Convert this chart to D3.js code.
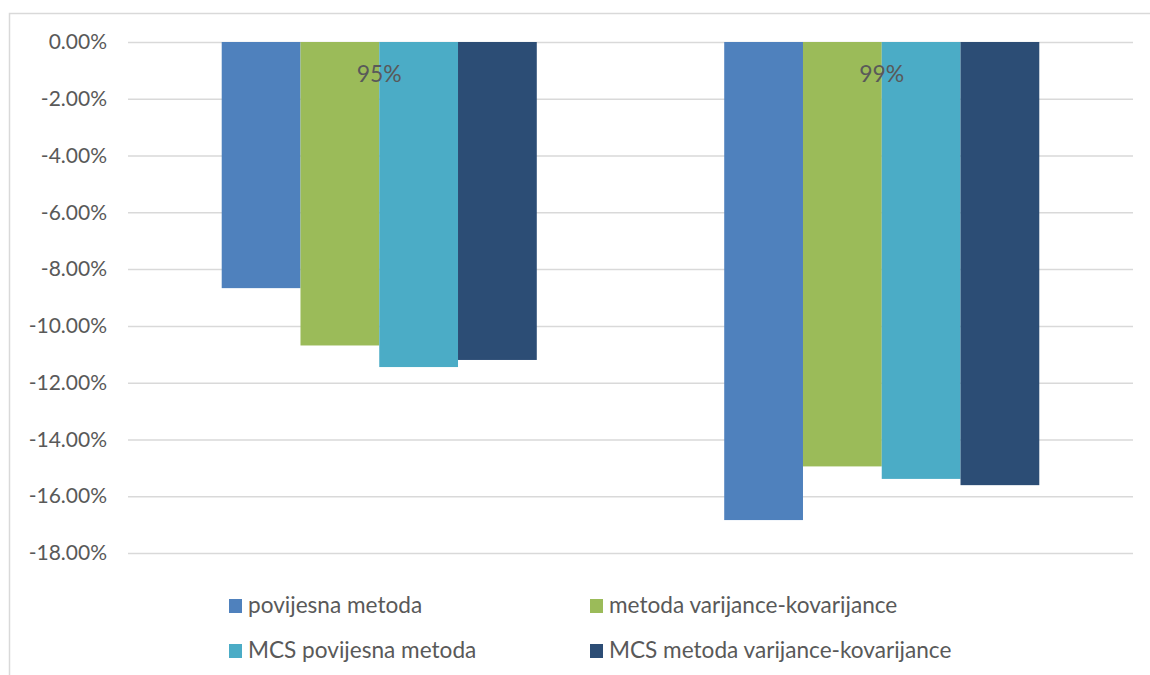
<!DOCTYPE html>
<html>
<head>
<meta charset="utf-8">
<script src="https://cdn.jsdelivr.net/npm/d3@7"></script>
<style>
  body { margin: 0; background: #fff; }
  text { font-family: Lato, "Liberation Sans", sans-serif; fill: #595959; }
</style>
</head>
<body>
<div id="chart"></div>
<script>
var width = 1150,
    height = 675;

// data
var categories = ["95%", "99%"];
var seriesNames = ["povijesna metoda", "metoda varijance-kovarijance",
                   "MCS povijesna metoda", "MCS metoda varijance-kovarijance"];
var povijesna = [-0.0867, -0.1684];
var varKov = [-0.1069, -0.1495];
var mcsPovijesna = [-0.1145, -0.1539];
var mcsVarKov = [-0.1120, -0.1561];
var yTicks = [0, -0.02, -0.04, -0.06, -0.08, -0.10, -0.12, -0.14, -0.16, -0.18];
var colors = ["#4F81BD", "#9BBB59", "#4BACC6", "#2C4D75"];

var seriesValues = [povijesna, varKov, mcsPovijesna, mcsVarKov];

var plot = { left: 128, right: 1133, top: 42, bottom: 553 };

// plain hyphen for negatives, like the original
var locale = d3.formatLocale({ decimal: ".", thousands: ",", grouping: [3], currency: ["", ""], minus: "-" });
var pct = locale.format(".2%");

var svg = d3.select("#chart").append("svg")
    .attr("width", width)
    .attr("height", height);

// chart area border
svg.append("rect")
    .attr("x", 9.5)
    .attr("y", 13.5)
    .attr("width", width + 20)
    .attr("height", height + 20)
    .attr("fill", "none")
    .attr("stroke", "#d9d9d9")
    .attr("stroke-width", 1.5);

var y = d3.scaleLinear()
    .domain([0, -0.18])
    .range([plot.top, plot.bottom]);

var x0 = d3.scaleBand()
    .domain(categories)
    .range([plot.left, plot.right])
    .paddingInner(0.373)
    .paddingOuter(0.1865);

var x1 = d3.scaleBand()
    .domain(d3.range(seriesNames.length))
    .range([0, x0.bandwidth()]);

// gridlines + labels
var yAxis = d3.axisLeft(y)
    .tickValues(yTicks)
    .tickSize(-(plot.right - plot.left))
    .tickPadding(21)
    .tickFormat(pct);

var gy = svg.append("g")
    .attr("transform", "translate(" + plot.left + ",0)")
    .call(yAxis);
gy.select(".domain").remove();
gy.selectAll(".tick line").attr("stroke", "#d9d9d9").attr("stroke-width", 1.5);
gy.selectAll(".tick text")
    .style("font-size", "21px")
    .attr("fill", "#595959")
    .style("font-family", "Lato, 'Liberation Sans', sans-serif");

// bars
var groups = svg.selectAll(".grp")
    .data(categories)
    .enter().append("g")
    .attr("class", "grp")
    .attr("transform", function (d) { return "translate(" + x0(d) + ",0)"; });

groups.selectAll("rect")
    .data(function (d, i) {
        return seriesValues.map(function (s, j) { return { s: j, v: s[i] }; });
    })
    .enter().append("rect")
    .attr("x", function (d) { return x1(d.s); })
    .attr("y", y(0))
    .attr("width", x1.bandwidth())
    .attr("height", function (d) { return y(d.v) - y(0); })
    .attr("fill", function (d) { return colors[d.s]; });

// category labels sit next to the axis at the top
svg.selectAll(".cat")
    .data(categories)
    .enter().append("text")
    .attr("class", "cat")
    .attr("x", function (d) { return x0(d) + x0.bandwidth() / 2; })
    .attr("y", 82)
    .attr("text-anchor", "middle")
    .style("font-size", "23px")
    .text(function (d) { return d; });

// legend
var legendPos = [[229, 599], [590, 599], [229, 644], [590, 644]];
var legend = svg.selectAll(".leg")
    .data(seriesNames)
    .enter().append("g")
    .attr("class", "leg")
    .attr("transform", function (d, i) {
        return "translate(" + legendPos[i][0] + "," + legendPos[i][1] + ")";
    });

legend.append("rect")
    .attr("width", 13)
    .attr("height", 14)
    .attr("fill", function (d, i) { return colors[i]; });

legend.append("text")
    .attr("x", 19)
    .attr("y", 14)
    .style("font-size", "22.6px")
    .text(function (d) { return d; });
</script>
</body>
</html>
